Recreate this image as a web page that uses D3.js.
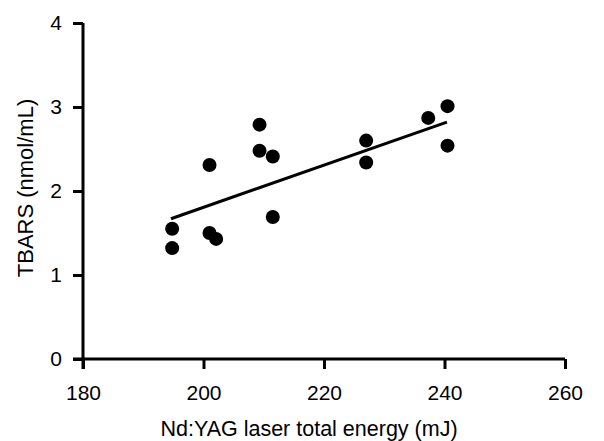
<!DOCTYPE html>
<html lang="en">
    <head>
        <meta charset="utf-8" />
        <title>TBARS vs Nd:YAG energy</title>
        <script src="https://d3js.org/d3.v7.min.js"></script>
        <style>
            body { margin: 0; background: #fff; }
            text { font-family: "Liberation Sans", Arial, sans-serif; fill: #000; }
        </style>
    </head>
    <body>
        <div id="chart"></div>
        <script>
            // data
            var energy = [194.8, 194.8, 201.0, 201.0, 202.1, 209.3, 209.3, 211.5, 211.5, 227.0, 227.0, 237.3, 240.5, 240.5];
            var tbars = [1.55, 1.32, 2.31, 1.50, 1.43, 2.79, 2.48, 2.41, 1.69, 2.60, 2.34, 2.87, 3.01, 2.54];
            // fitted line end points
            var fitX = [194.6, 240.4];
            var fitY = [1.67, 2.82];
            var xTicks = [180, 200, 220, 240, 260];
            var yTicks = [0, 1, 2, 3, 4];

            var margin = { top: 23, right: 39, bottom: 82, left: 83 },
                width = 604 - margin.left - margin.right,
                height = 441 - margin.top - margin.bottom;

            var svg = d3
                .select("#chart")
                .append("svg")
                .attr("width", 604)
                .attr("height", 441)
                .append("g")
                .attr("transform", "translate(" + margin.left + "," + margin.top + ")");

            var x = d3.scaleLinear().domain([180, 260]).range([0, width]);
            var y = d3.scaleLinear().domain([0, 4]).range([height, 0]);

            // X axis
            var gx = svg.append("g")
                .attr("transform", "translate(0," + height + ")")
                .call(d3.axisBottom(x).tickValues(xTicks).tickFormat(d3.format("d"))
                    .tickSize(10).tickPadding(16).tickSizeOuter(0));
            gx.select(".domain").remove();
            gx.selectAll("line").attr("stroke", "#000").attr("stroke-width", 3);
            gx.selectAll("text").style("font-size", "21px");

            // Y axis
            var gy = svg.append("g")
                .call(d3.axisLeft(y).tickValues(yTicks).tickFormat(d3.format("d"))
                    .tickSize(10).tickPadding(11).tickSizeOuter(0));
            gy.select(".domain").remove();
            gy.selectAll("line").attr("stroke", "#000").attr("stroke-width", 3);
            gy.selectAll("text").style("font-size", "21px");

            // axis lines, each running past the corner by one tick length
            svg.append("line")
                .attr("x1", x(180) - 10).attr("x2", x(260))
                .attr("y1", y(0)).attr("y2", y(0))
                .attr("stroke", "#000").attr("stroke-width", 3);
            svg.append("line")
                .attr("x1", x(180)).attr("x2", x(180))
                .attr("y1", y(4)).attr("y2", y(0) + 10)
                .attr("stroke", "#000").attr("stroke-width", 3);

            // fit line
            svg.append("line")
                .attr("x1", x(fitX[0])).attr("y1", y(fitY[0]))
                .attr("x2", x(fitX[1])).attr("y2", y(fitY[1]))
                .attr("stroke", "#000").attr("stroke-width", 3);

            // dots
            svg.selectAll("circle")
                .data(energy)
                .enter()
                .append("circle")
                .attr("cx", function (d) { return x(d); })
                .attr("cy", function (d, i) { return y(tbars[i]); })
                .attr("r", 7)
                .attr("fill", "#000");

            // titles
            svg.append("text")
                .attr("x", (x(180) + x(260)) / 2 - 15)
                .attr("y", height + 77)
                .attr("text-anchor", "middle")
                .style("font-size", "21.5px")
                .text("Nd:YAG laser total energy (mJ)");
            svg.append("text")
                .attr("transform", "translate(" + (-50) + "," + ((y(0) + y(4)) / 2 - 3) + ")rotate(-90)")
                .attr("text-anchor", "middle")
                .style("font-size", "22px")
                .text("TBARS (nmol/mL)");
        </script>
    </body>
</html>
